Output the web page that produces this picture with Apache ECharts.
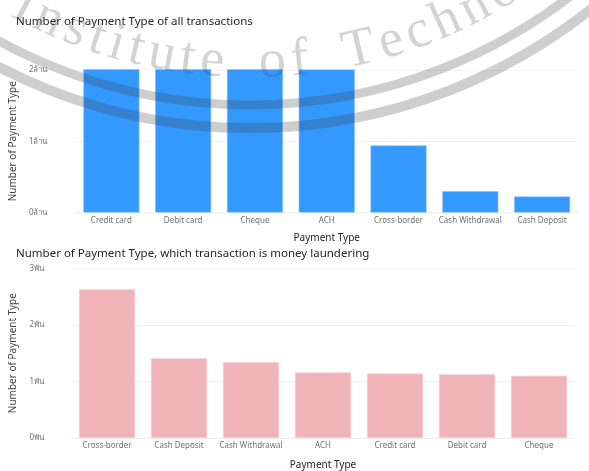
<!DOCTYPE html>
<html>
<head>
<meta charset="utf-8">
<script src="https://cdn.jsdelivr.net/npm/echarts@6/dist/echarts.min.js"></script>
<style>
  html, body { margin: 0; padding: 0; background: #fff; }
  #chart { width: 589px; height: 471px; }
</style>
</head>
<body>
<div id="chart"></div>
<script>
// all transactions
var allTypes = ['Credit card', 'Debit card', 'Cheque', 'ACH', 'Cross-border', 'Cash Withdrawal', 'Cash Deposit'];
var allCounts = [2012000, 2011000, 2010000, 2008000, 940000, 300000, 224000];
var allTicks = [0, 1000000, 2000000];

// laundering transactions only
var mlTypes = ['Cross-border', 'Cash Deposit', 'Cash Withdrawal', 'ACH', 'Credit card', 'Debit card', 'Cheque'];
var mlCounts = [2630, 1410, 1340, 1160, 1140, 1130, 1100];
var mlTicks = [0, 1000, 2000, 3000];

var titleTop = 'Number of Payment Type of all transactions';
var titleBottom = 'Number of Payment Type, which transaction is money laundering';
var axisTitleX = 'Payment Type';
var axisTitleY = 'Number of Payment Type';

var font = '"Noto Sans", "Open Sans", sans-serif';
var txtDark = '#252423';
var txtGray = '#707070';

// faded seal in the background (decoration only)
var sealColor = 'rgba(60,60,60,0.25)';
var sealTextColor = 'rgba(70,70,70,0.24)';
var sealX = 250, sealY = -420;
var sealText = 'Institute of Technology';
function buildSeal () {
  var items = [
    { type: 'circle', silent: true, z: 100, shape: { cx: sealX, cy: sealY, r: 525 },
      style: { fill: 'none', stroke: sealColor, lineWidth: 9 } },
    { type: 'circle', silent: true, z: 100, shape: { cx: sealX, cy: sealY, r: 548 },
      style: { fill: 'none', stroke: sealColor, lineWidth: 10 } }
  ];
  var f = '54px "Liberation Serif", serif';
  var ctx = document.createElement('canvas').getContext('2d');
  ctx.font = f;
  var r = 510;
  var a = -0.51;
  for (var i = 0; i < sealText.length; i++) {
    var ch = sealText[i];
    var w = ctx.measureText(ch).width + (ch === ' ' ? 18 : 6.5);
    var mid = a + w / 2 / r;
    if (ch !== ' ') {
      items.push({
        type: 'text', silent: true, z: 100,
        x: sealX + r * Math.sin(mid),
        y: sealY + r * Math.cos(mid),
        rotation: mid,
        style: { text: ch, font: f, fill: sealTextColor, align: 'center', verticalAlign: 'bottom' }
      });
    }
    a += w / r;
  }
  return items;
}

function yAxisFor (grid, ticks, unit, div) {
  return {
    gridIndex: grid,
    type: 'value',
    min: ticks[0],
    max: ticks[ticks.length - 1],
    interval: ticks[1] - ticks[0],
    name: axisTitleY,
    nameLocation: 'middle',
    nameGap: grid === 0 ? 50 : 47,
    nameTextStyle: { color: '#444', fontSize: 10, fontFamily: font },
    axisLine: { show: false },
    axisTick: { show: false },
    axisLabel: {
      margin: grid === 0 ? 28 : 27,
      color: txtGray,
      fontSize: 8,
      fontFamily: font,
      formatter: function (v) { return (v / div) + unit; }
    },
    splitLine: { lineStyle: { color: '#f2f2f2', width: 1 } }
  };
}

function xAxisFor (grid, cats) {
  return {
    gridIndex: grid,
    type: 'category',
    data: cats,
    name: axisTitleX,
    nameLocation: 'middle',
    nameGap: grid === 0 ? 21 : 22,
    nameTextStyle: { color: txtDark, fontSize: 10, fontFamily: font },
    axisLine: { lineStyle: { color: '#eeeeee' } },
    axisTick: { show: false },
    axisLabel: { margin: 4, color: txtGray, fontSize: 8, fontFamily: font, interval: 0 }
  };
}

var chart = echarts.init(document.getElementById('chart'), null, { renderer: 'canvas' });

var option = {
  backgroundColor: '#ffffff',
  animation: false,
  title: [{
    text: titleTop,
    left: 11,
    top: 11,
    textStyle: { color: txtDark, fontSize: 11.5, fontWeight: 'normal', fontFamily: font }
  }, {
    text: titleBottom,
    left: 11,
    top: 243,
    textStyle: { color: txtDark, fontSize: 11.5, fontWeight: 'normal', fontFamily: font }
  }],
  grid: [
    { left: 74, right: 11, top: 70, height: 142.5 },
    { left: 71, right: 14, top: 268.3, height: 177.4 }
  ],
  xAxis: [xAxisFor(0, allTypes), xAxisFor(1, mlTypes)],
  yAxis: [
    yAxisFor(0, allTicks, 'ล้าน', 1000000),
    yAxisFor(1, mlTicks, 'พัน', 1000)
  ],
  series: [{
    type: 'bar',
    xAxisIndex: 0,
    yAxisIndex: 0,
    data: allCounts,
    clip: false,
    barCategoryGap: '22%',
    itemStyle: { color: '#3399ff', borderColor: '#7fbfff', borderWidth: 0.6 }
  }, {
    type: 'bar',
    xAxisIndex: 1,
    yAxisIndex: 1,
    data: mlCounts,
    barCategoryGap: '22%',
    itemStyle: { color: '#f0b4b8', borderColor: '#f8d6d8', borderWidth: 0.6 }
  }],
  graphic: buildSeal()
};

chart.setOption(option);
</script>
</body>
</html>
